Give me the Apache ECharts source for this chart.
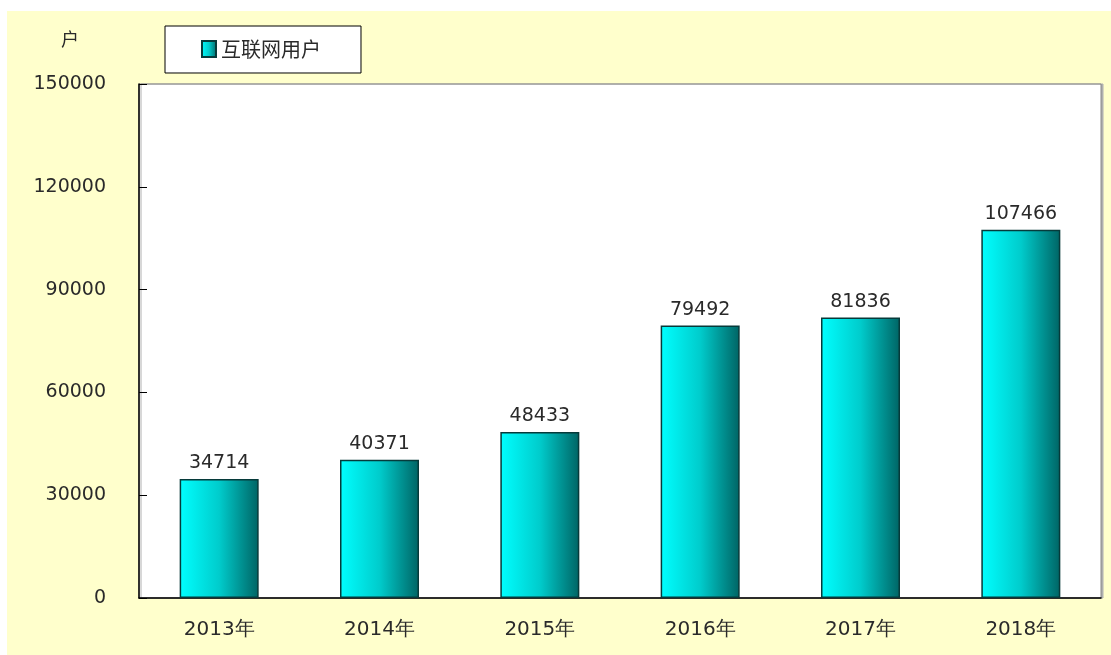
<!DOCTYPE html>
<html>
<head>
<meta charset="utf-8">
<script src="https://cdn.jsdelivr.net/npm/echarts@6/dist/echarts.min.js"></script>
<style>
  html, body { margin: 0; padding: 0; background: #fff; }
  #chart { width: 1111px; height: 655px; }
</style>
</head>
<body>
<div id="chart"></div>
<script>
// data
const years = ['2013年', '2014年', '2015年', '2016年', '2017年', '2018年'];
const users = [34714, 40371, 48433, 79492, 81836, 107466];
const seriesName = '互联网用户';
const unitLabel = '户';

const numFont = '"DejaVu Sans", sans-serif';
const textColor = '#2a2a2a';

const chart = echarts.init(document.getElementById('chart'));

const barColor = new echarts.graphic.LinearGradient(0, 0, 1, 0, [
  { offset: 0, color: '#00ffff' },
  { offset: 0.5, color: '#00cccc' },
  { offset: 1, color: '#006464' }
]);

chart.setOption({
  backgroundColor: '#fff',
  animation: false,
  graphic: [
    {
      type: 'rect', z: -10, silent: true,
      shape: { x: 7, y: 11, width: 1104, height: 644 },
      style: { fill: '#ffffcc' }
    },
    {
      type: 'text', left: 61, top: 30,
      style: { text: unitLabel, font: '18px "Noto Sans CJK SC"', fill: textColor }
    }
  ],
  legend: {
    left: 165, top: 26,
    padding: [13, 40, 14, 36],
    backgroundColor: '#fff',
    borderColor: '#000',
    borderWidth: 1,
    icon: 'rect',
    itemWidth: 14, itemHeight: 16, itemGap: 8,
    textStyle: { fontSize: 20, color: textColor, fontFamily: '"Noto Sans CJK SC"' },
    data: [seriesName]
  },
  grid: {
    left: 139, top: 84, width: 962, height: 514,
    show: true, backgroundColor: '#fff',
    borderColor: '#888', borderWidth: 1,
    shadowColor: '#b0b0b0', shadowOffsetX: 2, shadowOffsetY: 0, shadowBlur: 0
  },
  xAxis: {
    type: 'category',
    data: years,
    axisLine: { lineStyle: { color: '#000', width: 1.5 } },
    axisTick: { inside: true, length: 7, lineStyle: { color: '#000' } },
    axisLabel: { margin: 22, fontSize: 20, color: textColor, fontFamily: numFont }
  },
  yAxis: {
    type: 'value',
    min: 0, max: 150000, interval: 30000,
    axisLine: { show: true, lineStyle: { color: '#000', width: 1.5 } },
    axisTick: { show: true, inside: true, length: 8, lineStyle: { color: '#000' } },
    splitLine: { show: false },
    axisLabel: {
      margin: 33, fontSize: 19, color: textColor, fontFamily: numFont,
      formatter: v => String(v)
    }
  },
  series: [{
    name: seriesName,
    type: 'bar',
    data: users,
    barWidth: 79,
    itemStyle: { color: barColor, borderColor: '#063a3a', borderWidth: 1.5 },
    label: {
      show: true, position: 'top', distance: 6,
      fontSize: 19, color: textColor, fontFamily: numFont
    }
  }]
});
</script>
</body>
</html>
